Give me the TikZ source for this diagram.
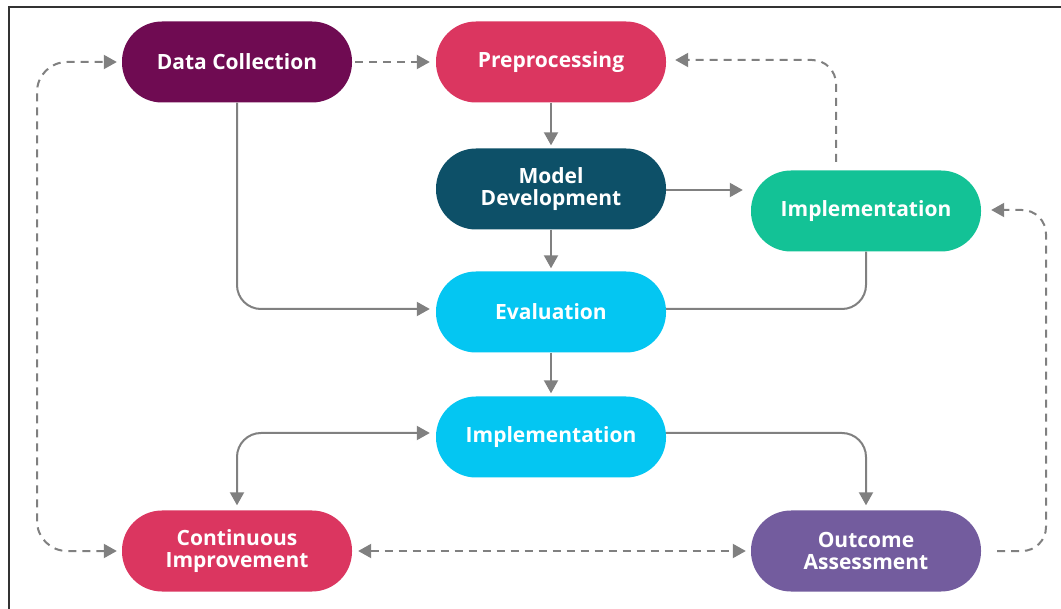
\documentclass[tikz,border=0pt]{standalone}
\usepackage{fontspec}
\setmainfont{Open Sans}
\usetikzlibrary{arrows.meta}
\definecolor{cdc}{HTML}{6F0B52}
\definecolor{cpre}{HTML}{DB3660}
\definecolor{cmod}{HTML}{0D5068}
\definecolor{cgrn}{HTML}{13C296}
\definecolor{ccyan}{HTML}{04C6F2}
\definecolor{coa}{HTML}{735C9E}
\definecolor{cline}{HTML}{808080}
\tikzset{
  pill/.style={rectangle, rounded corners=40pt, minimum width=230pt, minimum height=81pt,
    text=white, font=\bfseries\fontsize{21}{22}\selectfont, align=center, inner sep=0pt},
  conn/.style={draw=cline, line width=2pt, rounded corners=24pt,
    -{Triangle[length=13pt,width=14pt]}},
  plainconn/.style={draw=cline, line width=2pt, rounded corners=24pt},
  dconn/.style={conn, dash pattern=on 8pt off 6pt},
  ddconn/.style={dconn, {Triangle[length=13pt,width=14pt]}-{Triangle[length=13pt,width=14pt]}},
}
\begin{document}
\begin{tikzpicture}[x=1pt,y=-1pt]
\useasboundingbox (0,0) rectangle (1061,609);
\fill[white] (0,0) rectangle (1061,609);
\draw[line width=1.6pt, black!80] (9,609) -- (9,7) -- (1061,7);

\node[pill, fill=cdc]   (dc)  at (237,62)  {Data Collection};
\node[pill, fill=cpre]  (pre) at (551,62)  {Preprocessing};
\node[pill, fill=cmod]  (mod) at (551,189) {Model\\Development};
\node[pill, fill=cgrn]  (gi)  at (866,211) {Implementation};
\node[pill, fill=ccyan] (ev)  at (551,312) {Evaluation};
\node[pill, fill=ccyan] (ci)  at (551,437) {Implementation};
\node[pill, fill=cpre]  (imp) at (237,551) {Continuous\\Improvement};
\node[pill, fill=coa]   (oa)  at (866,551) {Outcome\\Assessment};

\coordinate (gtop) at (836,162);
\coordinate (oaout) at (997,551);

% dashed top
\draw[dconn, shorten <=3pt, shorten >=6pt] (dc.east) -- (pre.west);
% solid verticals
\draw[conn, shorten >=3pt] (pre.south) -- (mod.north);
\draw[conn, shorten >=3pt] (mod.south) -- (ev.north);
\draw[conn, shorten >=3pt] (ev.south) -- (ci.north);
% model -> green implementation
\draw[conn, shorten >=8pt] (mod.east |- 0,190) -- (gi.west |- 0,190);
% data collection -> evaluation
\draw[conn, shorten >=6pt] (dc.south) -- (237,309) -- (ev.west |- 0,309);
% green implementation -> evaluation
\draw[plainconn] (gi.south) -- (866,309) -- (ev.east |- 0,309);
% green implementation -> preprocessing (dashed)
\draw[dconn, shorten >=9pt] (gtop) -- (836,60) -- (pre.east |- 0,60);
% cyan implementation <-> continuous improvement
\draw[conn, {Triangle[length=13pt,width=14pt]}-{Triangle[length=13pt,width=14pt]}, shorten <=6pt, shorten >=5pt]
  (ci.west |- 0,433) -- (237,433) -- (imp.north);
% cyan implementation -> outcome
\draw[conn, shorten >=5pt] (ci.east |- 0,433) -- (866,433) -- (oa.north);
% continuous <-> outcome (dashed)
\draw[ddconn, shorten <=6pt, shorten >=5pt] (imp.east) -- (oa.west);
% outcome -> green implementation (dashed)
\draw[dconn, shorten >=10pt] (oaout) -- (1046,551) -- (1046,210) -- (gi.east |- 0,210);
% continuous <-> data collection (dashed loop)
\draw[ddconn, rounded corners=30pt, shorten <=5pt, shorten >=5pt] (imp.west) -- (37,551) -- (37,62) -- (dc.west);
\end{tikzpicture}
\end{document}
